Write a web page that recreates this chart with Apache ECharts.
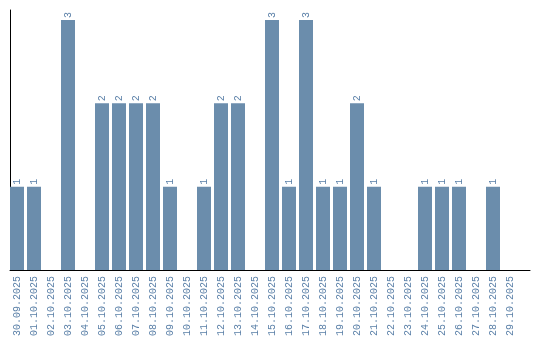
<!DOCTYPE html>
<html><head><meta charset="utf-8">
<script src="https://cdn.jsdelivr.net/npm/echarts@6/dist/echarts.min.js"></script>
<style>html,body{margin:0;padding:0;background:#fff}#c{width:540px;height:340px}</style>
</head><body><div id="c"></div>
<script>
const categories = ["30.09.2025","01.10.2025","02.10.2025","03.10.2025","04.10.2025","05.10.2025","06.10.2025","07.10.2025","08.10.2025","09.10.2025","10.10.2025","11.10.2025","12.10.2025","13.10.2025","14.10.2025","15.10.2025","16.10.2025","17.10.2025","18.10.2025","19.10.2025","20.10.2025","21.10.2025","22.10.2025","23.10.2025","24.10.2025","25.10.2025","26.10.2025","27.10.2025","28.10.2025","29.10.2025"];
const values = [1,1,0,3,0,2,2,2,2,1,0,1,2,2,0,3,1,3,1,1,2,1,0,0,1,1,1,0,1,0];
const textColor = '#5b80a8';
const barColor = '#6b8dac';
const font = 'Liberation Mono';
const chart = echarts.init(document.getElementById('c'), null, {renderer:'canvas'});
chart.setOption({
  animation:false,
  grid:[
    {left:8.5, top:20, width:510, height:250},
    {left:10, top:10, width:520, height:260}
  ],
  xAxis:[
    {type:'category', gridIndex:0, data:categories,
     axisLine:{show:false}, axisTick:{show:false},
     axisLabel:{rotate:90, interval:0, margin:6, color:textColor, fontFamily:font, fontSize:10}},
    {type:'value', gridIndex:1, min:0, max:1, axisLine:{show:true, onZero:false, lineStyle:{color:'#000', width:1}},
     axisTick:{show:false}, axisLabel:{show:false}, splitLine:{show:false}}
  ],
  yAxis:[
    {type:'value', gridIndex:0, min:0, max:3, axisLine:{show:false}, axisTick:{show:false}, axisLabel:{show:false}, splitLine:{show:false}},
    {type:'value', gridIndex:1, min:0, max:1, axisLine:{show:true, onZero:false, lineStyle:{color:'#000', width:1}},
     axisTick:{show:false}, axisLabel:{show:false}, splitLine:{show:false}}
  ],
  series:[{
    type:'bar', xAxisIndex:0, yAxisIndex:0, data:values, barWidth:14,
    itemStyle:{color:barColor},
    label:{show:true, position:'top', rotate:90, align:'left', verticalAlign:'middle', distance:2,
      color:textColor, fontFamily:font, fontSize:10,
      formatter:p=>p.value ? String(p.value) : ''}
  }]
});
</script></body></html>
